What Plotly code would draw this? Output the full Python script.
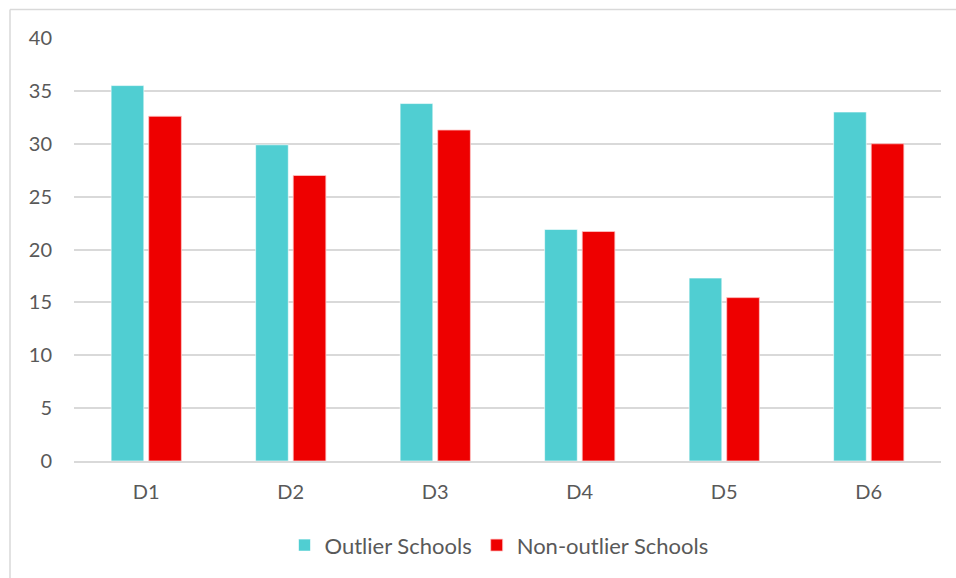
import plotly.graph_objects as go

categories = ["D1", "D2", "D3", "D4", "D5", "D6"]
outlier = [35.5, 29.9, 33.8, 21.9, 17.3, 33.0]
non_outlier = [32.6, 27.0, 31.3, 21.7, 15.45, 30.0]
y_ticks = [0, 5, 10, 15, 20, 25, 30, 35, 40]

W, H = 956, 578
L, R, T, B = 74, 15, 37.5, 116.5
pw, ph = W - L - R, H - T - B

fig = go.Figure()
fig.add_trace(go.Bar(x=categories, y=outlier, name="Outlier Schools",
                     marker=dict(color="#50CED2", line=dict(color="rgba(255,255,255,0.6)", width=1))))
fig.add_trace(go.Bar(x=categories, y=non_outlier, name="Non-outlier Schools   ",
                     marker=dict(color="#EE0000", line=dict(color="rgba(255,200,200,0.8)", width=1))))

def px_x(p):
    return (p - L) / pw

def px_y(p):
    return (H - B - p) / ph

fig.update_layout(
    width=W, height=H,
    margin=dict(l=L, r=R, t=T, b=B),
    paper_bgcolor="white", plot_bgcolor="white",
    barmode="group", bargap=0.48, bargroupgap=0.13,
    font=dict(family="Lato, Open Sans, sans-serif", color="#595959", size=20),
    xaxis=dict(showgrid=False, showline=True, linecolor="#D9D9D9", linewidth=1.5,
               ticks="", tickfont=dict(size=20), ticklabelstandoff=12),
    yaxis=dict(range=[0, 40], tickvals=y_ticks, showgrid=True, gridcolor="#D9D9D9",
               gridwidth=1.5, zeroline=False, showline=False, ticks="",
               tickfont=dict(size=20), ticklabelstandoff=21),
    legend=dict(orientation="h", x=0.5, xanchor="center", y=px_y(546), yanchor="middle",
                font=dict(size=22), itemwidth=30, traceorder="normal"),
    shapes=[
        dict(type="line", xref="paper", yref="paper", x0=px_x(10), x1=px_x(960),
             y0=px_y(9), y1=px_y(9), line=dict(color="#D9D9D9", width=1.5)),
        dict(type="line", xref="paper", yref="paper", x0=px_x(10), x1=px_x(10),
             y0=px_y(9), y1=px_y(590), line=dict(color="#D9D9D9", width=1.5)),
    ],
)

fig.write_html("out.html")
